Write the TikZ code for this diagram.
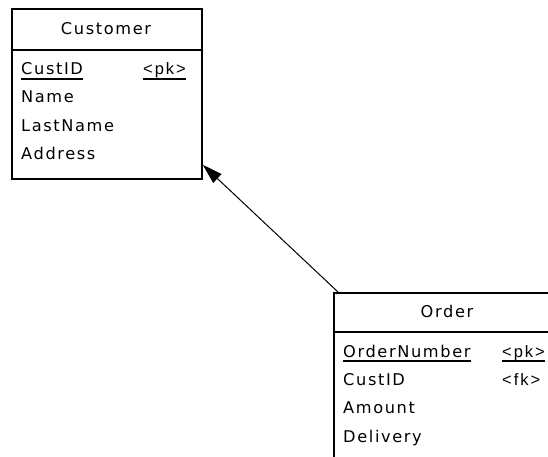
\documentclass[tikz,border=0pt]{standalone}
\usepackage{fontspec}
\setmainfont[LetterSpace=10]{DejaVu Sans}
\newfontfamily\keyfont[LetterSpace=12]{Liberation Sans}
\usetikzlibrary{arrows.meta,calc}
\begin{document}
\begin{tikzpicture}[x=1pt,y=-1pt,
  entity/.style={draw,line width=1.8pt,rectangle,inner sep=0pt,anchor=north west},
  txt/.style={inner sep=0pt,font=\fontsize{16.2}{17}\selectfont},
  keytxt/.style={inner sep=0pt,font=\keyfont\fontsize{16.5}{17}\selectfont},
  divider/.style={line width=1.8pt},
  uline/.style={line width=1.1pt},
  rel/.style={line width=1pt,-{Triangle[length=20pt,width=12pt]}}]
\useasboundingbox (0,0) rectangle (548,457);
\clip (0,0) rectangle (548,457);
% Customer entity
\node[entity,minimum width=190pt,minimum height=170pt] (cust) at (11,8) {};
\draw[divider] (cust.west |- 0,50) coordinate (cdl) -- (cust.east |- 0,50) coordinate (cdr);
\node[txt,anchor=base] (custtitle) at (106,35) {Customer};
\node[txt,anchor=base west] (c1) at (21,75) {CustID};
\node[keytxt,anchor=base west] (c1k) at (143,75) {<pk>};
\node[txt,anchor=base west] (c2) at (21,103) {Name};
\node[txt,anchor=base west] (c3) at (21,132) {LastName};
\node[txt,anchor=base west] (c4) at (21,160) {Address};
\draw[uline] ([yshift=-4pt]c1.base west) -- ([yshift=-4pt]c1.base east);
\draw[uline] ([yshift=-4pt]c1k.base west) -- ([yshift=-4pt]c1k.base east);
% Order entity
\node[entity,minimum width=228pt,minimum height=200pt] (order) at (333,292) {};
\draw[divider] (order.west |- 0,332) coordinate (odl) -- (order.east |- 0,332) coordinate (odr);
\node[txt,anchor=base] (ordertitle) at (447,317) {Order};
\node[txt,anchor=base west] (o1) at (343,357) {OrderNumber};
\node[keytxt,anchor=base west] (o1k) at (502,357) {<pk>};
\node[txt,anchor=base west] (o2) at (343,385) {CustID};
\node[keytxt,anchor=base west] (o2k) at (502,385) {<fk>};
\node[txt,anchor=base west] (o3) at (343,413) {Amount};
\node[txt,anchor=base west] (o4) at (343,442) {Delivery};
\draw[uline] ([yshift=-4pt]o1.base west) -- ([yshift=-4pt]o1.base east);
\draw[uline] ([yshift=-4pt]o1k.base west) -- ([yshift=-4pt]o1k.base east);
% Relationship
\draw[rel] ([xshift=5pt]order.north west) -- ([yshift=15pt]cust.south east);
\end{tikzpicture}
\end{document}
